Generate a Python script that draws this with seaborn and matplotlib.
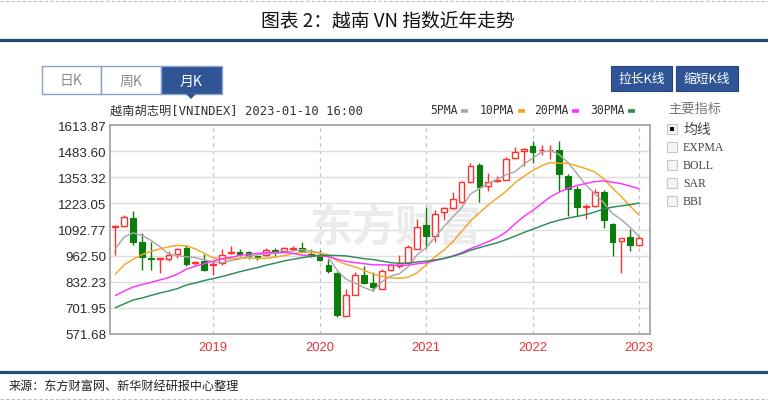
import matplotlib
matplotlib.use("Agg")
import matplotlib.pyplot as plt
import seaborn as sns
import numpy as np
import pandas as pd
from matplotlib.patches import Rectangle, Polygon

# ---------------- data (monthly candles, Feb 2018 - Jan 2023) ----------------
months = pd.period_range("2018-02", "2023-01", freq="M").astype(str).tolist()
opens = [1104, 1112, 1150, 1030, 952, 947, 947, 972, 1001, 925,
         934, 917, 927, 976, 980, 980, 959, 967, 993, 986,
         997, 1001, 972, 965, 917, 876, 663, 768, 867, 826,
         798, 889, 911, 927, 996, 1115, 1062, 1181, 1198, 1228,
         1330, 1412, 1310, 1336, 1340, 1450, 1483, 1508, 1488, 1489,
         1491, 1362, 1297, 1204, 1208, 1280, 1120, 1033, 1054, 1013]
highs = [1113, 1163, 1183, 1074, 1030, 951, 985, 999, 1013, 938,
         972, 938, 996, 1012, 996, 988, 963, 1001, 1001, 1005,
         1010, 1030, 996, 993, 947, 881, 795, 881, 909, 881,
         894, 919, 967, 1013, 1145, 1203, 1191, 1203, 1280, 1333,
         1422, 1425, 1376, 1359, 1455, 1505, 1497, 1533, 1516, 1516,
         1533, 1368, 1308, 1219, 1293, 1291, 1125, 1051, 1095, 1062]
lows = [966, 1104, 1013, 889, 892, 876, 938, 952, 912, 914,
        886, 864, 917, 972, 960, 947, 943, 960, 960, 984,
        991, 980, 954, 937, 877, 655, 662, 766, 823, 788,
        796, 885, 901, 925, 994, 1000, 1030, 1141, 1197, 1227,
        1323, 1228, 1285, 1331, 1338, 1442, 1409, 1425, 1466, 1442,
        1285, 1161, 1161, 1143, 1207, 1099, 963, 877, 988, 1011]
closes = [1110, 1153, 1030, 958, 945, 950, 968, 995, 922, 930,
          892, 922, 964, 981, 972, 960, 953, 993, 986, 999,
          999, 986, 959, 943, 887, 665, 768, 867, 828, 807,
          886, 914, 927, 1005, 1104, 1059, 1170, 1198, 1244, 1330,
          1409, 1305, 1330, 1341, 1445, 1480, 1495, 1480, 1491, 1491,
          1371, 1297, 1203, 1208, 1280, 1141, 1030, 1049, 1013, 1049]

# moving-average values shown before enough visible closes exist
ma5_head = [996, 1056, 1076, 1063]
ma10_head = [870, 917, 944, 967, 984, 996, 1006, 1014, 1011]
ma20_head = [764, 786, 806, 818, 829, 841, 853, 870, 895, 910,
             922, 935, 947, 954, 964, 969, 974, 977, 979]
ma30_head = [703, 722, 741, 751, 764, 776, 786, 798, 816, 826,
             838, 848, 858, 870, 882, 893, 903, 915, 925, 936,
             944, 952, 959, 964, 964, 963, 961, 954, 947]

y_ticks = [571.68, 701.95, 832.23, 962.50, 1092.77, 1223.05, 1353.32, 1483.60, 1613.87]
year_months = ["2019-01", "2020-01", "2021-01", "2022-01", "2023-01"]
year_labels = ["2019", "2020", "2021", "2022", "2023"]
ma_names = ["5PMA", "10PMA", "20PMA", "30PMA"]
ma_colors = ["#a8a8a8", "#f5a623", "#ff33ff", "#2e8b57"]

# ---------------- build frame ----------------
df = pd.DataFrame({"month": months, "open": opens, "high": highs,
                   "low": lows, "close": closes})
df["i"] = np.arange(len(df))
s = df["close"]
def moving(n, head):
    m = s.rolling(n).mean()
    m.iloc[:n - 1] = head
    return m
df["5PMA"] = moving(5, ma5_head)
df["10PMA"] = moving(10, ma10_head)
df["20PMA"] = moving(20, ma20_head)
df["30PMA"] = moving(30, ma30_head)

sns.set_theme(style="white")
plt.rcParams["font.family"] = ["Noto Sans CJK SC", "DejaVu Sans"]

W, H = 768, 402
fig = plt.figure(figsize=(W / 100, H / 100), dpi=100)

# background overlay in pixel coordinates
bg = fig.add_axes([0, 0, 1, 1], zorder=0)
bg.set_xlim(0, W)
bg.set_ylim(H, 0)
bg.axis("off")

ax = fig.add_axes([110 / W, 1 - 335 / H, (649.5 - 110) / W, (335 - 126) / H], zorder=1)

RED = "#ff3030"
GREEN = "#0b7d0b"

up = df["close"] >= df["open"]
# wicks
for is_up, col in [(True, RED), (False, GREEN)]:
    d = df[up == is_up]
    ax.vlines(d["i"], d["low"], d["high"], color=col, lw=1.0, zorder=2)
# bodies
d = df[up]
ax.bar(d["i"], (d["close"] - d["open"]).clip(lower=1.5), bottom=d["open"], width=0.64,
       facecolor="white", edgecolor=RED, linewidth=1.0, zorder=3)
d = df[~up]
ax.bar(d["i"], d["open"] - d["close"], bottom=d["close"], width=0.64,
       facecolor=GREEN, edgecolor=GREEN, linewidth=0.8, zorder=3)

for name, col in zip(ma_names, ma_colors):
    sns.lineplot(data=df, x="i", y=name, ax=ax, color=col, lw=1.05, zorder=4, legend=False)

ax.set_xlim(-0.6, 60.16)
ax.set_ylim(y_ticks[0], y_ticks[-1])
ax.set_yticks(y_ticks)
ax.set_yticklabels([f"{v:.2f}" for v in y_ticks], fontsize=9.6,
                   family=["Liberation Sans"], color="#2a2a2a")
xpos = [months.index(m) for m in year_months]
ax.set_xticks(xpos)
ax.set_xticklabels(year_labels, fontsize=9.3, family=["Liberation Sans"], color="#e8333a")
ax.tick_params(axis="y", length=0, pad=2.5)
ax.tick_params(axis="x", length=0, pad=5)
ax.set_xlabel("")
ax.set_ylabel("")
ax.set_axisbelow(True)
ax.grid(axis="y", color="#dcdcdc", lw=1.0, ls="-")
ax.grid(axis="x", color="#c4c4c4", lw=0.9, ls=(0, (3, 3)))
for sp in ax.spines.values():
    sp.set_color("#a6a6a6")
    sp.set_linewidth(1.3)

# watermark
ax.text(396 / W, 1 - 228 / H, "东方财富", transform=fig.transFigure, ha="center", va="center",
        fontsize=31, fontweight="bold", color="#ebebee", zorder=0.7)

# ---------------- decorations ----------------
bg.plot([0, W], [1.5, 1.5], color="#bdbdbd", lw=0.8, ls=(0, (3, 2)))
bg.plot([0, W], [400, 400], color="#bdbdbd", lw=0.8, ls=(0, (3, 2)))
bg.text(388, 20.5, "图表 2：越南 VN 指数近年走势", ha="center", va="center",
        fontsize=13.5, color="#111111")
bg.plot([0, W], [40.8, 40.8], color="#1f4e79", lw=2.3)
bg.plot([0, W], [372.5, 372.5], color="#1f4e79", lw=2.3)
bg.text(9, 386.5, "来源：东方财富网、新华财经研报中心整理", ha="left", va="center",
        fontsize=8.7, color="#222222")

# period tabs
BLUE = "#2f5597"
tabs = [("日K", 42, 59, False), ("周K", 101, 60, False), ("月K", 161, 61, True)]
for txt, x0, w, active in tabs:
    bg.add_patch(Rectangle((x0, 67), w, 28, facecolor=BLUE if active else "white",
                           edgecolor="#8aa3c8", lw=1.0))
    bg.text(x0 + w / 2, 81.5, txt, ha="center", va="center", fontsize=10,
            color="white" if active else "#8a8a8a")
bg.add_patch(Polygon([[186, 95], [196, 95], [191, 100]], closed=True, facecolor=BLUE, edgecolor="none"))

for txt, x0, w in [("拉长K线", 611, 61), ("缩短K线", 676, 62)]:
    bg.add_patch(Rectangle((x0, 67), w, 25, facecolor=BLUE, edgecolor="#24467e", lw=0.8))
    bg.text(x0 + w / 2, 79.5, txt, ha="center", va="center", fontsize=9.2, color="white")

# chart header
bg.text(110, 111, "越南胡志明[VNINDEX] 2023-01-10 16:00", ha="left", va="center",
        fontsize=8.8, family=["DejaVu Sans Mono", "Noto Sans CJK SC"], color="#333333")
leg_x = [430, 480, 534, 590]
for name, col, x0 in zip(ma_names, ma_colors, leg_x):
    t = bg.text(x0, 111, name, ha="left", va="center", fontsize=8.3,
                family=["DejaVu Sans Mono"], color="#333333")
    wpx = len(name) * 0.602 * 8.3 * 100 / 72
    bg.plot([x0 + wpx + 3, x0 + wpx + 10], [111.5, 111.5], color=col, lw=2.6,
            solid_capstyle="butt")

# indicator panel
bg.text(668, 109, "主要指标", ha="left", va="center", fontsize=9.5, color="#777777")
items = ["均线", "EXPMA", "BOLL", "SAR", "BBI"]
for k, it in enumerate(items):
    yc = 129.5 + k * 18.2
    bg.add_patch(Rectangle((667, yc - 5), 10, 10, facecolor="#f4f4f4", edgecolor="#c8c8c8", lw=0.8))
    if k == 0:
        bg.add_patch(Rectangle((670, yc - 2), 4, 4, facecolor="#111111", edgecolor="none"))
    bg.text(683, yc, it, ha="left", va="center",
            fontsize=10 if k == 0 else 8.5,
            family=["Noto Sans CJK SC"] if k == 0 else ["Liberation Serif"],
            color="#444444")

fig.savefig("out.png", dpi=100)
